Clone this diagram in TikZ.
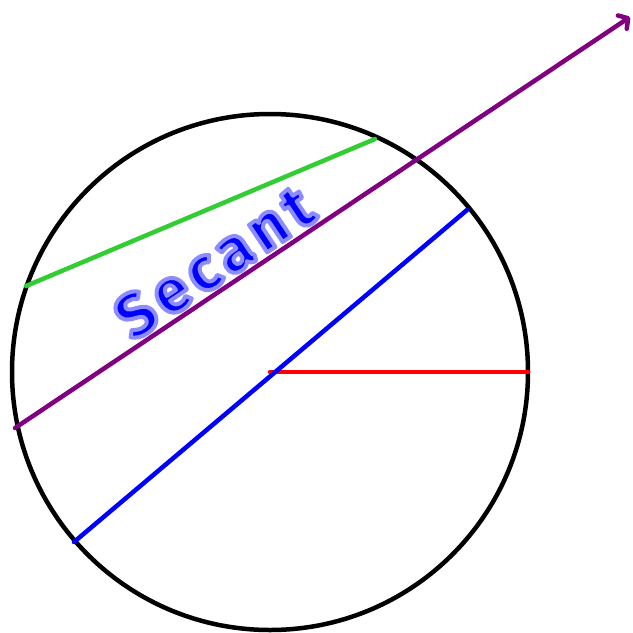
\documentclass[tikz,border=0pt]{standalone}
\usepackage{fontspec}
\newfontfamily\handfont[LetterSpace=10]{Fira Sans}
\usetikzlibrary{arrows.meta}

\begin{document}
\begin{tikzpicture}[x=1pt, y=-1pt, line width=4.5pt, line cap=round]
\newcommand{\secantlabel}[1]{\special{pdf:code q 0.55 0.55 1 RG 4 w 1 j 2 Tr}#1\special{pdf:code 0 Tr Q}}
\useasboundingbox (0,0) rectangle (633,633);

\coordinate (O) at (270,372);
\coordinate (r1) at (528,372);
\coordinate (d1) at (74,542);
\coordinate (d2) at (467,210);
\coordinate (c1) at (26,286);
\coordinate (c2) at (375,139);
\coordinate (s1) at (15,428);
\coordinate (s2) at (630,17);

\draw[black] (O) circle (258);
\draw[color={rgb,255:red,50;green,205;blue,50}] (c1) -- (c2);
\draw[red] (O) -- (r1);
\draw[blue] (d1) -- (d2);
\draw[color={rgb,255:red,128;green,0;blue,128}, -{Straight Barb[length=7pt,width=16pt,round]}] (s1) -- (s2);

\node[rotate=33.7, text=blue, font=\handfont\bfseries\fontsize{62}{62}\selectfont] (lbl) at (214,262) {\secantlabel{Secant}};
\end{tikzpicture}
\end{document}
